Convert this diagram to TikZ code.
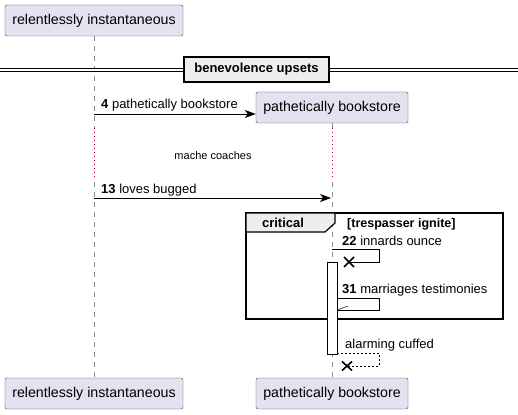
\documentclass[tikz,border=0pt]{standalone}
\usepackage{fontspec}
\setmainfont{Liberation Sans}
\usetikzlibrary{arrows.meta}
\definecolor{partfill}{HTML}{E2E2F0}
\definecolor{partdraw}{HTML}{181818}
\definecolor{grpfill}{HTML}{EEEEEE}
\definecolor{delayred}{HTML}{A80036}
\begin{document}
\begin{tikzpicture}[x=1pt,y=-1pt,
  participant/.style={draw=partdraw!80, fill=partfill, rounded corners=2pt, minimum height=31pt, inner sep=0pt, font=\fontsize{14.2}{16}\selectfont},
  lifeline/.style={draw=gray!90, dash pattern=on 5pt off 5pt, line width=0.6pt},
  delayline/.style={draw=delayred, dash pattern=on 1pt off 3pt, line width=0.6pt},
  msg/.style={-{Stealth[length=11pt,width=8pt,inset=3pt]}, line width=0.9pt},
  msgtxt/.style={anchor=base west, inner sep=0pt, font=\fontsize{13}{15}\selectfont},
  cross/.style={line width=1.6pt},
  actbar/.style={draw=black, fill=white, line width=0.9pt},
]
\useasboundingbox (0,0) rectangle (518,414);

% participants
\node[participant, minimum width=178pt] (a1) at (94,20.5) {relentlessly instantaneous};
\node[participant, minimum width=152pt] (b1) at (332,107.5) {pathetically bookstore};
\node[participant, minimum width=178pt] (a2) at (94,393.5) {relentlessly instantaneous};
\node[participant, minimum width=152pt] (b2) at (332,393.5) {pathetically bookstore};

% lifeline coordinates
\coordinate (ad1) at (94,128);
\coordinate (ad2) at (94,178);
\coordinate (ad3) at (94,182);
\coordinate (bd1) at (332,128);
\coordinate (bd2) at (332,178);
\coordinate (bd3) at (332,182);

\draw[lifeline] (a1.south) -- (ad1);
\draw[delayline] (ad1) -- (ad2);
\draw[lifeline] (ad3) -- (a2.north);
\draw[lifeline] (b1.south) -- (bd1);
\draw[delayline] (bd1) -- (bd2);
\draw[lifeline] (bd3) -- (b2.north);

% divider
\coordinate (dl) at (0,70);
\coordinate (dr) at (518,70);
\draw[line width=0.9pt, double distance=2.6pt] (dl) -- (dr);
\node[draw=black, line width=1.6pt, fill=grpfill, minimum width=145pt, minimum height=25pt, inner sep=0pt, font=\bfseries\fontsize{13}{15}\selectfont] (div) at (256.5,69.5) {benevolence upsets};

% message 4
\coordinate (m4s) at (94,114);
\draw[msg] (m4s) -- (b1.west |- m4s);
\node[msgtxt] (m4t) at (101,109) {\textbf{4} pathetically bookstore};

% delay text
\node[font=\fontsize{11}{13}\selectfont, inner sep=0pt] (delay) at (213,156) {mache coaches};

% message 13
\coordinate (m13s) at (94,198);
\coordinate (m13e) at (331,198);
\draw[msg] (m13s) -- (m13e);
\node[msgtxt] (m13t) at (101,193) {\textbf{13} loves bugged};

% critical frame
\draw[line width=1.5pt] (246,213) rectangle (503,319);
\draw[line width=1.2pt, fill=grpfill] (246,213) -- (335,213) -- (335,223) -- (325,232) -- (246,232) -- cycle;
\node[font=\bfseries\fontsize{13}{15}\selectfont, inner sep=0pt] (crit) at (283,223) {critical};
\node[anchor=base west, inner sep=0pt, font=\bfseries\fontsize{12.5}{14}\selectfont] (guard) at (347,227) {[trespasser ignite]};

% activation bar
\node[actbar, minimum width=10pt, minimum height=92pt, inner sep=0pt] (act) at (332,308) {};

% message 22 (self, lost)
\coordinate (m22s) at (332,249);
\coordinate (m22a) at (379,249);
\coordinate (m22b) at (379,262);
\coordinate (m22x) at (349,262);
\draw[line width=0.9pt] (m22s) -- (m22a) -- (m22b) -- (m22x);
\draw[cross] ([shift={(-5,-5)}]m22x) -- ([shift={(5,5)}]m22x);
\draw[cross] ([shift={(-5,5)}]m22x) -- ([shift={(5,-5)}]m22x);
\node[msgtxt] (m22t) at (342,245) {\textbf{22} innards ounce};

% message 31 (self)
\coordinate (m31s) at (337,298);
\coordinate (m31a) at (379,298);
\coordinate (m31b) at (379,310);
\coordinate (m31e) at (337,310);
\draw[line width=0.9pt] (m31s) -- (m31a) -- (m31b) -- (m31e);
\draw[line width=0.5pt] (m31e) -- ++(11,-4);
\node[msgtxt] (m31t) at (342,293) {\textbf{31} marriages testimonies};

% return (dashed, lost)
\coordinate (rs) at (337,353);
\coordinate (ra) at (379,353);
\coordinate (rb) at (379,366);
\coordinate (rx) at (347,366);
\draw[line width=0.7pt, dash pattern=on 2pt off 2pt] (rs) -- (ra) -- (rb) -- (rx);
\draw[cross] ([shift={(-5,-4.5)}]rx) -- ([shift={(5,4.5)}]rx);
\draw[cross] ([shift={(-5,4.5)}]rx) -- ([shift={(5,-4.5)}]rx);
\node[msgtxt] (rt) at (345,348) {alarming cuffed};
\end{tikzpicture}
\end{document}
